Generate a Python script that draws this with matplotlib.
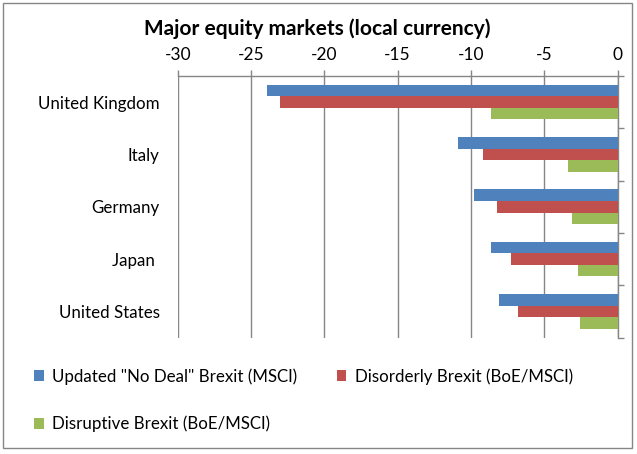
import numpy as np
import matplotlib
matplotlib.use('Agg')
import matplotlib.pyplot as plt
from matplotlib.patches import Rectangle

countries = ['United Kingdom', 'Italy', 'Germany', 'Japan ', 'United States']
no_deal = [-23.9, -10.9, -9.8, -8.6, -8.1]
disorderly = [-23.0, -9.2, -8.2, -7.25, -6.8]
disruptive = [-8.6, -3.4, -3.1, -2.7, -2.55]
series_names = ['Updated "No Deal" Brexit (MSCI)', 'Disorderly Brexit (BoE/MSCI)',
                'Disruptive Brexit (BoE/MSCI)']
x_ticks = [-30, -25, -20, -15, -10, -5, 0]

colors = ['#4F81BD', '#C0504D', '#9BBB59']
line_gray = '#868686'


def main():
    plt.rcParams['font.family'] = ['Lato', 'DejaVu Sans']

    fig = plt.figure(figsize=(6.37, 4.54), dpi=100)
    ax = fig.add_axes([0.279, 0.2566, 0.6904, 0.576])

    pos = np.arange(len(countries))
    h = 0.22
    bars = []
    for k, values in enumerate([no_deal, disorderly, disruptive]):
        b = ax.barh(pos + (k - 1) * h, values, height=h, color=colors[k], zorder=3)
        bars.append(b)

    ax.set_xlim(-30, 0)
    ax.set_ylim(len(countries) - 0.5, -0.5)

    # value axis on top
    ax.xaxis.tick_top()
    ax.set_xticks(x_ticks)
    ax.set_xticklabels([str(t) for t in x_ticks])
    ax.tick_params(axis='x', which='major', length=4, width=1, color=line_gray,
                   labelsize=12.5, pad=5.5, direction='out')
    ax.grid(True, axis='x', color=line_gray, linewidth=1, zorder=0)

    # category axis at zero (right side)
    ax.set_yticks(pos)
    ax.set_yticklabels(countries)
    ax.tick_params(axis='y', which='major', length=0, labelsize=12.2, pad=13)
    ax.set_yticks(np.arange(len(countries) + 1) - 0.5, minor=True)
    ax.tick_params(axis='y', which='minor', left=False, right=True, length=4,
                   width=1, color=line_gray, direction='out')

    for side in ['left', 'bottom']:
        ax.spines[side].set_visible(False)
    for side in ['top', 'right']:
        ax.spines[side].set_color(line_gray)
        ax.spines[side].set_linewidth(1)

    fig.text(0.498, 1 - 29 / 454, 'Major equity markets (local currency)',
             ha='center', va='center', fontsize=15, fontweight='bold')

    # legend: blue and red on the first row, green below
    handles = [bars[0], bars[2], bars[1]]
    labels = [series_names[0], series_names[2], series_names[1]]
    fig.legend(handles, labels, ncol=2, loc='upper left',
               bbox_to_anchor=(0.054, 1 - 368 / 454), frameon=False,
               fontsize=12.2, handlelength=0.55, handleheight=0.6,
               handletextpad=0.5, columnspacing=2.35, labelspacing=1.85,
               borderaxespad=0, borderpad=0)

    fig.patches.append(Rectangle((3 / 637, 1 - 448 / 454), 629 / 637, 445 / 454,
                                 transform=fig.transFigure, fill=False,
                                 edgecolor=line_gray, linewidth=1))

    fig.savefig('out.png', dpi=100)


if __name__ == '__main__':
    main()
